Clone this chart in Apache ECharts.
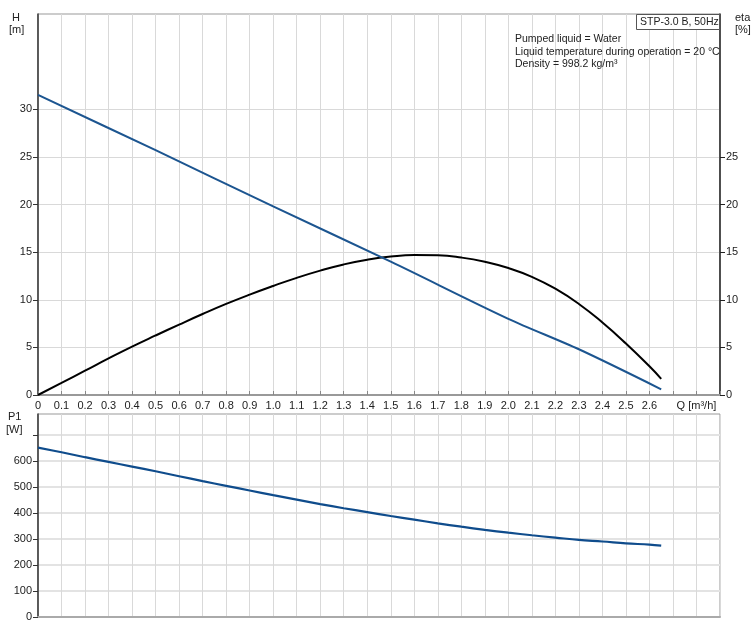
<!DOCTYPE html>
<html>
<head>
<meta charset="utf-8">
<script src="https://cdn.jsdelivr.net/npm/echarts@6/dist/echarts.min.js"></script>
<style>html,body{margin:0;padding:0;background:#fff;}#c{width:755px;height:631px;}</style>
</head>
<body>
<div id="c"></div>
<script>
// Flow Q [m³/h]
const headQ = [0, 0.5, 1.0, 1.5, 2.0, 2.3, 2.65];
const headH = [31.5, 25.7, 19.8, 14.0, 8.0, 4.8, 0.6];

const etaQ = [0, 0.1, 0.2, 0.3, 0.4, 0.5, 0.6, 0.7, 0.8, 0.9, 1.0, 1.1, 1.2, 1.3, 1.4, 1.5, 1.6, 1.7, 1.8, 1.9, 2.0, 2.1, 2.2, 2.3, 2.4, 2.5, 2.6, 2.65];
const etaV = [0, 1.27, 2.55, 3.84, 5.08, 6.25, 7.39, 8.5, 9.56, 10.54, 11.45, 12.3, 13.06, 13.71, 14.2, 14.53, 14.69, 14.66, 14.43, 13.99, 13.33, 12.41, 11.16, 9.56, 7.61, 5.41, 3.01, 1.7];

const p1Q = [0, 0.1, 0.2, 0.3, 0.4, 0.5, 0.6, 0.7, 0.8, 0.9, 1.0, 1.1, 1.2, 1.3, 1.4, 1.5, 1.6, 1.7, 1.8, 1.9, 2.0, 2.1, 2.2, 2.3, 2.4, 2.5, 2.6, 2.65];
const p1W = [651, 633, 614, 596, 578, 560, 541, 522, 504, 486, 468, 451, 434, 418, 403, 388, 374, 360, 347, 335, 324, 314, 305, 296, 290, 283, 278, 274];

const hTicks = [0, 5, 10, 15, 20, 25, 30];
const etaTicks = [0, 5, 10, 15, 20, 25];
const p1Labels = [0, 100, 200, 300, 400, 500, 600];
const p1Ticks = [0, 100, 200, 300, 400, 500, 600, 700];

const infoLines = ['Pumped liquid = Water', 'Liquid temperature during operation = 20 °C', 'Density = 998.2 kg/m³'];
const modelLabel = 'STP-3.0 B, 50Hz';

const zip = (a, b) => a.map((v, i) => [v, b[i]]);
const FONT = 'Liberation Sans, Arial, sans-serif';
const TXT = '#222';

const chart = echarts.init(document.getElementById('c'), null, {renderer: 'canvas'});

const fmtQ = v => {
  const r = Math.round(v * 10) / 10;
  if (r === 0) return '0';
  if (r >= 2.65 && r < 2.75) return '';
  if (r >= 2.75 && r < 2.85) return 'Q [m³/h]';
  if (r >= 2.85) return '';
  return r.toFixed(1);
};

const grid = [
  {left: 38, right: 35, top: 14, height: 381, show: true, borderColor: '#999', borderWidth: 1},
  {left: 38, right: 35, top: 414, height: 203, show: true, borderColor: '#999', borderWidth: 1}
];

const splitLine = {show: true, lineStyle: {color: '#d9d9d9', width: 1}};

chart.setOption({
  animation: false,
  backgroundColor: '#fff',
  textStyle: {fontFamily: FONT},
  grid: grid,
  xAxis: [
    {type: 'value', gridIndex: 0, min: 0, max: 2.9, interval: 0.1,
     axisLine: {show: true, onZero: false, lineStyle: {color: '#999', width: 2}},
     axisTick: {show: true, inside: true, length: 4, lineStyle: {color: '#888'}},
     axisLabel: {show: true, margin: 5, color: TXT, fontSize: 11, fontFamily: FONT, formatter: fmtQ, showMaxLabel: true},
     splitLine: splitLine},
    {type: 'value', gridIndex: 1, min: 0, max: 2.9, interval: 0.1,
     axisLine: {show: true, onZero: false, lineStyle: {color: '#aaa', width: 2}},
     axisTick: {show: false},
     axisLabel: {show: false},
     splitLine: splitLine}
  ],
  yAxis: [
    {type: 'value', gridIndex: 0, min: 0, max: 40, interval: 5, position: 'left',
     axisLine: {show: true, onZero: false, lineStyle: {color: '#333', width: 1.5}},
     axisTick: {show: true, length: 5, customValues: hTicks, lineStyle: {color: '#333'}},
     axisLabel: {color: TXT, fontSize: 11, fontFamily: FONT, margin: 6, customValues: hTicks},
     splitLine: splitLine},
    {type: 'value', gridIndex: 0, min: 0, max: 40, interval: 5, position: 'right',
     axisLine: {show: true, onZero: false, lineStyle: {color: '#222', width: 1.5}},
     axisTick: {show: true, length: 5, customValues: etaTicks, lineStyle: {color: '#222'}},
     axisLabel: {color: TXT, fontSize: 11, fontFamily: FONT, margin: 6, customValues: etaTicks},
     splitLine: {show: false}},
    {type: 'value', gridIndex: 1, min: 0, max: 780, interval: 100, position: 'left',
     axisLine: {show: true, onZero: false, lineStyle: {color: '#333', width: 1.5}},
     axisTick: {show: true, length: 5, customValues: p1Ticks, lineStyle: {color: '#333'}},
     axisLabel: {color: TXT, fontSize: 11, fontFamily: FONT, margin: 6, customValues: p1Labels},
     splitLine: {show: true, lineStyle: {color: '#e3e3e3', width: 2}}}
  ],
  series: [
    {type: 'line', name: 'H', xAxisIndex: 0, yAxisIndex: 0, data: zip(headQ, headH), smooth: 0.3,
     symbol: 'none', lineStyle: {color: '#1c5590', width: 2}, z: 3},
    {type: 'line', name: 'eta', xAxisIndex: 0, yAxisIndex: 1, data: zip(etaQ, etaV), smooth: 0.5,
     symbol: 'none', lineStyle: {color: '#000', width: 2}, z: 2},
    {type: 'line', name: 'P1', xAxisIndex: 1, yAxisIndex: 2, data: zip(p1Q, p1W), smooth: 0.4,
     symbol: 'none', lineStyle: {color: '#0f4c8c', width: 2.2}, z: 3}
  ],
  graphic: [
    {type: 'text', left: 12, top: 12, style: {text: 'H', font: '11px ' + FONT, fill: TXT}},
    {type: 'text', left: 9, top: 24, style: {text: '[m]', font: '11px ' + FONT, fill: TXT}},
    {type: 'text', left: 735, top: 12, style: {text: 'eta', font: '11px ' + FONT, fill: TXT}},
    {type: 'text', left: 735, top: 24, style: {text: '[%]', font: '11px ' + FONT, fill: TXT}},
    {type: 'text', left: 8, top: 411, style: {text: 'P1', font: '11px ' + FONT, fill: TXT}},
    {type: 'text', left: 6, top: 424, style: {text: '[W]', font: '11px ' + FONT, fill: TXT}},
    {type: 'rect', shape: {x: 636.5, y: 14.5, width: 83, height: 15}, style: {fill: '#fff', stroke: '#555', lineWidth: 1}, z: 10},
    {type: 'text', left: 640, top: 17, style: {text: modelLabel, font: '10.5px ' + FONT, fill: TXT}, z: 11},
    {type: 'text', left: 515, top: 34, style: {text: infoLines[0], font: '10.5px ' + FONT, fill: TXT}, z: 11},
    {type: 'text', left: 515, top: 47, style: {text: infoLines[1], font: '10.5px ' + FONT, fill: TXT}, z: 11},
    {type: 'text', left: 515, top: 59, style: {text: infoLines[2], font: '10.5px ' + FONT, fill: TXT}, z: 11}
  ]
});
</script>
</body>
</html>
